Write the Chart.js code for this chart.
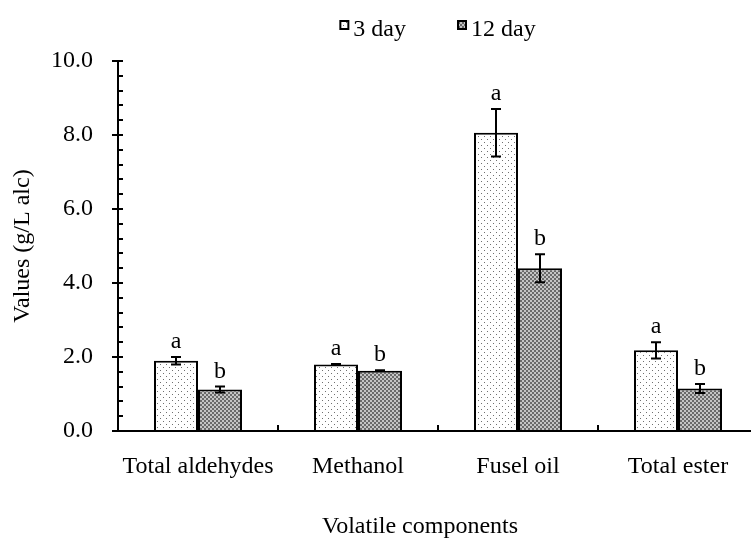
<!DOCTYPE html>
<html>
<head>
<meta charset="utf-8">
<script src="https://cdn.jsdelivr.net/npm/chart.js@4.4.1/dist/chart.umd.min.js"></script>
<style>
  html, body { margin: 0; background: #fff; overflow: hidden; }
  #wrap { width: 751px; height: 540px; overflow: hidden; }
  #inner { width: 758px; height: 540px; }
</style>
</head>
<body>
<div id="wrap"><div id="inner"><canvas id="volatile"></canvas></div></div>
<script>
const categories = ['Total aldehydes', 'Methanol', 'Fusel oil', 'Total ester'];
const day3 = [1.90, 1.80, 8.06, 2.18];
const day12 = [1.12, 1.63, 4.40, 1.15];
const err3 = [0.10, 0.01, 0.64, 0.22];
const err12 = [0.08, 0.01, 0.38, 0.12];
const letters3 = ['a', 'a', 'a', 'a'];
const letters12 = ['b', 'b', 'b', 'b'];
const yTicks = [0, 2, 4, 6, 8, 10];
const xTitle = 'Volatile components';

const FONT = 'Liberation Serif';
const SIZE = 24;

function makePattern(size, draw) {
    let c = document.createElement('canvas');
    c.width = size;
    c.height = size;
    let g = c.getContext('2d');
    draw(g);
    return g.createPattern(c, 'repeat');
}

// sparse staggered dots for 3 day
let dotted = makePattern(6, function (g) {
    g.fillStyle = '#fff';
    g.fillRect(0, 0, 6, 6);
    g.fillStyle = '#707070';
    g.fillRect(1, 1, 1, 1);
    g.fillRect(4, 4, 1, 1);
});

// checker for 12 day
let checker = makePattern(4, function (g) {
    g.fillStyle = '#c4c4c4';
    g.fillRect(0, 0, 4, 4);
    g.fillStyle = '#6a6a6a';
    g.fillRect(0, 0, 2, 2);
    g.fillRect(2, 2, 2, 2);
});

const errorBars = {
    id: 'errorBars',
    afterDatasetsDraw(chart) {
        let ctx = chart.ctx;
        let y = chart.scales.y;
        let sets = [[day3, err3, letters3], [day12, err12, letters12]];
        ctx.save();
        ctx.strokeStyle = '#000';
        ctx.lineWidth = 2;
        ctx.fillStyle = '#000';
        ctx.font = SIZE + 'px "' + FONT + '"';
        ctx.textAlign = 'center';
        ctx.textBaseline = 'alphabetic';
        sets.forEach(function (s, di) {
            let meta = chart.getDatasetMeta(di);
            meta.data.forEach(function (bar, i) {
                let top = y.getPixelForValue(s[0][i] + s[1][i]);
                let bot = y.getPixelForValue(s[0][i] - s[1][i]);
                ctx.beginPath();
                ctx.moveTo(bar.x, top);
                ctx.lineTo(bar.x, bot);
                ctx.moveTo(bar.x - 5, top);
                ctx.lineTo(bar.x + 5, top);
                ctx.moveTo(bar.x - 5, bot);
                ctx.lineTo(bar.x + 5, bot);
                ctx.stroke();
                ctx.fillText(s[2][i], bar.x, top - 9);
            });
        });
        ctx.restore();
    }
};

const innerTicks = {
    id: 'innerTicks',
    afterDraw(chart) {
        let ctx = chart.ctx;
        let y = chart.scales.y;
        let x = chart.scales.x;
        let area = chart.chartArea;
        ctx.save();
        ctx.strokeStyle = '#000';
        ctx.lineWidth = 2;
        ctx.beginPath();
        for (let i = 0; i <= 25; i++) {
            let py = Math.round(y.getPixelForValue(i * 0.4));
            ctx.moveTo(area.left, py);
            ctx.lineTo(area.left + 5, py);
        }
        for (let i = 0; i < categories.length - 1; i++) {
            let px = Math.round((x.getPixelForValue(i) + x.getPixelForValue(i + 1)) / 2);
            ctx.moveTo(px, area.bottom);
            ctx.lineTo(px, area.bottom - 6);
        }
        ctx.stroke();

        // x axis title
        ctx.fillStyle = '#000';
        ctx.font = SIZE + 'px "' + FONT + '"';
        ctx.textAlign = 'center';
        ctx.textBaseline = 'alphabetic';
        ctx.fillText(xTitle, 420, 533);
        ctx.restore();
    }
};

// legend drawn by hand: small square + label
const squareLegend = {
    id: 'squareLegend',
    afterDraw(chart) {
        let ctx = chart.ctx;
        let area = chart.chartArea;
        let sets = chart.data.datasets;
        let box = 8, gap = 5, spacing = 52;
        ctx.save();
        ctx.font = SIZE + 'px "' + FONT + '"';
        let widths = sets.map(function (d) { return ctx.measureText(d.label).width; });
        let total = widths.reduce(function (a, w) { return a + box + gap + w; }, 0) + spacing * (sets.length - 1);
        let cx = (area.left + area.right) / 2 - total / 2;
        sets.forEach(function (d, i) {
            ctx.fillStyle = d.backgroundColor;
            ctx.fillRect(cx, 21, box, box);
            ctx.strokeStyle = '#000';
            ctx.lineWidth = 2;
            ctx.strokeRect(cx, 21, box, box);
            ctx.fillStyle = '#000';
            ctx.textAlign = 'left';
            ctx.textBaseline = 'alphabetic';
            ctx.fillText(d.label, cx + box + gap, 36);
            cx += box + gap + widths[i] + spacing;
        });
        ctx.restore();
    }
};

let chart = new Chart(document.getElementById('volatile'), {
    type: 'bar',
    data: {
        labels: categories,
        datasets: [{
            label: '3 day',
            data: day3,
            backgroundColor: dotted,
            borderColor: '#000',
            borderWidth: 2,
            borderSkipped: 'bottom'
        }, {
            label: '12 day',
            data: day12,
            backgroundColor: checker,
            borderColor: '#000',
            borderWidth: 2,
            borderSkipped: 'bottom'
        }]
    },
    options: {
        responsive: true,
        maintainAspectRatio: false,
        animation: false,
        layout: {
            padding: { top: 61, right: 0, bottom: 0, left: 0 }
        },
        datasets: {
            bar: {
                categoryPercentage: 0.55,
                barPercentage: 1.0
            }
        },
        plugins: {
            tooltip: { enabled: false },
            legend: { display: false }
        },
        scales: {
            x: {
                afterFit(scale) { scale.height = 109; },
                grid: { display: false, drawTicks: false },
                border: { display: true, color: '#000', width: 2 },
                ticks: {
                    color: '#000',
                    padding: 21,
                    maxRotation: 0,
                    minRotation: 0,
                    autoSkip: false,
                    font: { family: FONT, size: SIZE }
                }
            },
            y: {
                min: 0,
                max: 10,
                afterFit(scale) { scale.width = 118; },
                afterBuildTicks(scale) {
                    scale.ticks = yTicks.map(function (v) { return { value: v }; });
                },
                grid: {
                    drawOnChartArea: false,
                    drawTicks: true,
                    tickLength: 6,
                    color: '#000',
                    lineWidth: 2
                },
                border: { display: true, color: '#000', width: 2 },
                ticks: {
                    color: '#000',
                    padding: 19,
                    font: { family: FONT, size: SIZE },
                    callback: function (v) { return Number(v).toFixed(1); }
                },
                title: {
                    display: true,
                    text: 'Values (g/L alc)',
                    color: '#000',
                    font: { family: FONT, size: SIZE },
                    padding: { top: 8, bottom: 0 }
                }
            }
        }
    },
    plugins: [errorBars, innerTicks, squareLegend]
});
</script>
</body>
</html>
